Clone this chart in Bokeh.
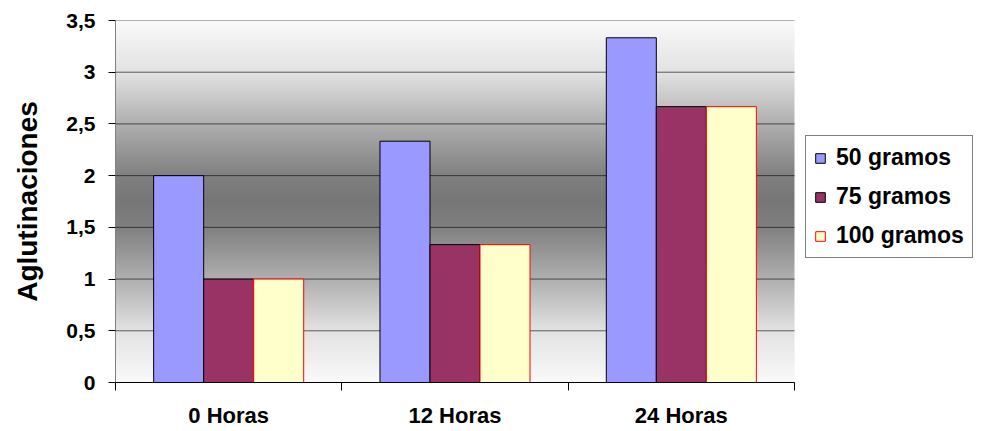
import numpy as np
from bokeh.plotting import figure
from bokeh.models import Range1d, FixedTicker, Legend, LegendItem
from bokeh.embed import file_html
from bokeh.resources import INLINE

# ---- data ----
categories = ["0 Horas", "12 Horas", "24 Horas"]
series_names = ["50 gramos", "75 gramos", "100 gramos"]
values_50 = [2.0, 2.333, 3.333]
values_75 = [1.0, 1.333, 2.667]
values_100 = [1.0, 1.333, 2.667]
y_ticks = [0, 0.5, 1, 1.5, 2, 2.5, 3, 3.5]
y_tick_labels = ["0", "0,5", "1", "1,5", "2", "2,5", "3", "3,5"]
y_axis_title = "Aglutinaciones"

# ---- styles ----
fill_colors = ["#9999FF", "#993366", "#FFFFCC"]
line_colors = ["#000000", "#000000", "#FF0000"]
FONT = "Liberation Sans"

W, H = 981, 431
LEFT, TOP, BOTTOM = 115, 20, 49
PLOT_W = 679  # width of the chart area proper (legend sits to its right)

Y_MAX = y_ticks[-1]
n = len(categories)
x_end = n * (W - LEFT) / PLOT_W

p = figure(width=W, height=H, x_range=Range1d(0, x_end), y_range=Range1d(0, Y_MAX),
           output_backend="svg", toolbar_location=None,
           min_border_left=LEFT, min_border_right=0, min_border_top=TOP, min_border_bottom=BOTTOM)
p.background_fill_color = "white"
p.border_fill_color = "white"
p.outline_line_color = None
p.grid.visible = False

# gradient background (white - gray - white) over the chart area
rows = 362
v = np.linspace(0, Y_MAX, rows)
t = np.abs(v - Y_MAX / 2) / (Y_MAX / 2)
g = np.interp(t, [0, 0.14, 0.43, 0.71, 1.0], [0x77, 0x80, 0xB0, 0xE2, 0xFA]).astype(np.uint8)
img = np.empty((rows, 1), dtype=np.uint32)
view = img.view(dtype=np.uint8).reshape((rows, 1, 4))
view[..., 0] = g[:, None]
view[..., 1] = g[:, None]
view[..., 2] = g[:, None]
view[..., 3] = 255
p.image_rgba(image=[img], x=0, y=0, dw=n, dh=Y_MAX, level="image")

# horizontal grid lines limited to chart area
p.segment(x0=[0] * len(y_ticks), x1=[n] * len(y_ticks), y0=y_ticks, y1=y_ticks,
          line_color="black", line_alpha=0.6, line_width=1, level="underlay")

# bars
w = 0.221
offsets = [-w, 0.0, w]
centers = np.arange(n) + 0.5
renderers = []
for vals, fc, lc, off in zip([values_50, values_75, values_100], fill_colors, line_colors, offsets):
    r = p.vbar(x=centers + off, top=vals, bottom=0, width=w,
               fill_color=fc, line_color=lc, line_width=1)
    renderers.append(r)

# x axis
xa = p.xaxis[0]
xa.bounds = (0, n)
xa.ticker = FixedTicker(ticks=list(centers), minor_ticks=list(range(n + 1)))
xa.major_label_overrides = {float(c): cat for c, cat in zip(centers, categories)}
xa.major_tick_line_color = None
xa.major_tick_out = 8
xa.major_tick_in = 0
xa.minor_tick_line_color = "black"
xa.minor_tick_out = 8
xa.minor_tick_in = 0
xa.axis_line_color = "black"
xa.major_label_text_font = FONT
xa.major_label_text_font_style = "bold"
xa.major_label_text_font_size = "22px"
xa.major_label_text_color = "black"
xa.major_label_standoff = 12

# y axis
ya = p.yaxis[0]
ya.ticker = FixedTicker(ticks=y_ticks)
ya.major_label_overrides = {float(k): lab for k, lab in zip(y_ticks, y_tick_labels)}
ya.axis_line_color = "#808080"
ya.major_tick_line_color = "black"
ya.major_tick_out = 7
ya.major_tick_in = 0
ya.minor_tick_line_color = None
ya.major_label_text_font = FONT
ya.major_label_text_font_style = "bold"
ya.major_label_text_font_size = "21px"
ya.major_label_text_color = "black"
ya.major_label_standoff = 13
ya.axis_label = y_axis_title
ya.axis_label_text_font = FONT
ya.axis_label_text_font_style = "bold"
ya.axis_label_text_font_size = "28px"
ya.axis_label_text_color = "black"
ya.axis_label_standoff = 20

# legend
legend = Legend(items=[LegendItem(label=nm, renderers=[r]) for nm, r in zip(series_names, renderers)],
                location=(690, 124))
legend.border_line_color = "black"
legend.border_line_width = 1
legend.background_fill_color = "white"
legend.background_fill_alpha = 1
legend.label_text_font = FONT
legend.label_text_font_style = "bold"
legend.label_text_font_size = "23px"
legend.label_text_color = "black"
legend.glyph_width = 12
legend.glyph_height = 12
legend.label_height = 22
legend.spacing = 12
legend.padding = 8
legend.margin = 0
legend.label_standoff = 10
p.add_layout(legend, "center")

open("out.html", "w").write(file_html(p, INLINE))
